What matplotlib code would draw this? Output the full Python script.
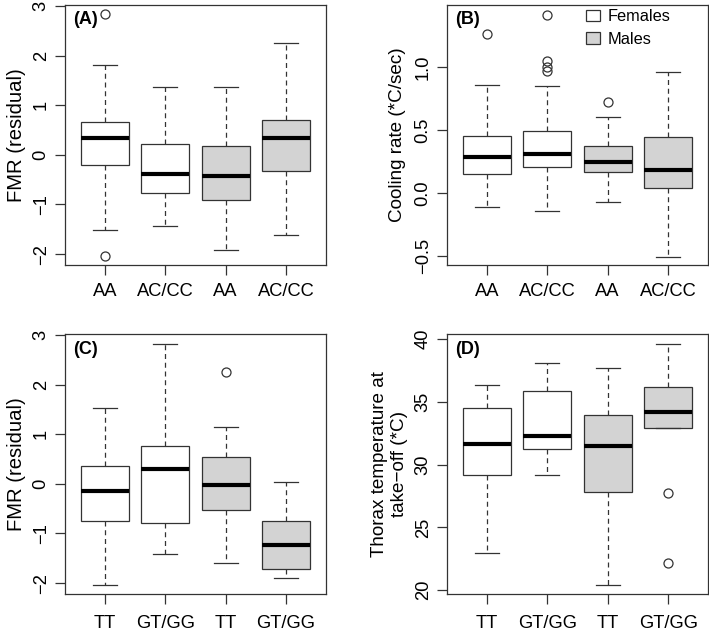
import matplotlib
matplotlib.use("Agg")
import matplotlib.pyplot as plt
from matplotlib.patches import Patch

plt.rcParams['font.family'] = ['Liberation Sans', 'DejaVu Sans']

# genotype labels and sex of each box
labels_ac = ["AA", "AC/CC", "AA", "AC/CC"]
labels_gt = ["TT", "GT/GG", "TT", "GT/GG"]
sexes = ["F", "F", "M", "M"]

# five-number summaries: (lower whisker, Q1, median, Q3, upper whisker)
fmr_ac = [(-1.51, -0.20, 0.336, 0.66, 1.82),
          (-1.43, -0.766, -0.376, 0.215, 1.36),
          (-1.91, -0.90, -0.42, 0.18, 1.36),
          (-1.61, -0.33, 0.336, 0.70, 2.245)]
fmr_ac_out = [[2.83, -2.04], [], [], []]

cool_ac = [(-0.114, 0.151, 0.289, 0.456, 0.86),
           (-0.143, 0.207, 0.308, 0.49, 0.846),
           (-0.072, 0.167, 0.249, 0.369, 0.605),
           (-0.504, 0.042, 0.186, 0.443, 0.958)]
cool_ac_out = [[1.263], [1.414, 1.05, 1.0, 0.97], [0.724], []]

fmr_gt = [(-2.03, -0.745, -0.148, 0.369, 1.53),
          (-1.416, -0.79, 0.295, 0.772, 2.82),
          (-1.597, -0.53, -0.02, 0.55, 1.154),
          (-1.90, -1.725, -1.228, -0.745, 0.034)]
fmr_gt_out = [[], [], [2.248], []]

temp_gt = [(22.95, 29.2, 31.62, 34.47, 36.36),
           (29.15, 31.22, 32.31, 35.85, 38.09),
           (20.4, 27.79, 31.49, 33.96, 37.66),
           (32.93, 32.93, 34.18, 36.22, 39.63)]
temp_gt_out = [[], [], [], [27.74, 22.13]]

fill = {"F": "white", "M": "#d3d3d3"}
edge = "#333333"


def draw(ax, summ, outl, labels, yticks, ylim, ylabel, tag, labsize, labpad, xpad):
    stats = []
    for (lo, q1, med, q3, hi), fl, lab in zip(summ, outl, labels):
        stats.append(dict(whislo=lo, q1=q1, med=med, q3=q3, whishi=hi,
                          fliers=fl, label=lab))
    bp = ax.bxp(stats, positions=[1, 2, 3, 4], widths=0.8, patch_artist=True,
                boxprops=dict(edgecolor=edge, linewidth=0.9),
                medianprops=dict(color="black", linewidth=3.0, solid_capstyle="butt"),
                whiskerprops=dict(color=edge, linewidth=0.9, linestyle=(0, (4, 3))),
                capprops=dict(color=edge, linewidth=0.9),
                flierprops=dict(marker="o", markerfacecolor="none",
                                markeredgecolor=edge, markersize=6.5, markeredgewidth=0.9),
                capwidths=0.4)
    for patch, s in zip(bp["boxes"], sexes):
        patch.set_facecolor(fill[s])
    ax.set_xlim(0.34, 4.66)
    ax.set_ylim(*ylim)
    ax.set_yticks(yticks)
    ax.set_yticklabels([("%g" % t).replace("-", "\u2212") for t in yticks],
                       rotation=90, va="center")
    ax.tick_params(axis="both", length=7, width=0.9, color=edge, labelsize=13.2)
    ax.tick_params(axis="x", pad=xpad)
    ax.tick_params(axis="y", pad=4)
    for sp in ax.spines.values():
        sp.set_color(edge)
        sp.set_linewidth(0.9)
    ax.set_ylabel(ylabel, fontsize=labsize, labelpad=labpad)
    ax.text(0.03, 0.975, tag, transform=ax.transAxes, fontsize=13,
            fontweight="bold", va="top", ha="left")


fig = plt.figure(figsize=(7.09, 6.31), dpi=100)
w, h = 261 / 709, 260 / 631
axA = fig.add_axes([65 / 709, 1 - 265 / 631, w, h])
axB = fig.add_axes([447 / 709, 1 - 265 / 631, w, h])
axC = fig.add_axes([65 / 709, 1 - 594 / 631, w, h])
axD = fig.add_axes([447 / 709, 1 - 594 / 631, w, h])

draw(axA, fmr_ac, fmr_ac_out, labels_ac, [-2, -1, 0, 1, 2, 3], (-2.22, 3.02),
     "FMR (residual)", "(A)", 14.6, 5, 6)
draw(axB, cool_ac, cool_ac_out, labels_ac, [-0.5, 0.0, 0.5, 1.0], (-0.57, 1.49),
     "Cooling rate (*C/sec)", "(B)", 13.6, 6, 6)
axB.set_yticklabels(["\u22120.5", "0.0", "0.5", "1.0"])
draw(axC, fmr_gt, fmr_gt_out, labels_gt, [-2, -1, 0, 1, 2, 3], (-2.22, 3.02),
     "FMR (residual)", "(C)", 14.6, 5, 8)
draw(axD, temp_gt, temp_gt_out, labels_gt, [20, 25, 30, 35, 40], (19.7, 40.4),
     "Thorax temperature at\ntake\u2212off (*C)", "(D)", 13.6, 5, 8)

handles = [Patch(facecolor="white", edgecolor=edge, linewidth=0.9),
           Patch(facecolor="#d3d3d3", edgecolor=edge, linewidth=0.9)]
axB.legend(handles, ["Females", "Males"], loc="upper left", frameon=False,
           fontsize=11.8, handlelength=0.85, handleheight=0.7, handletextpad=0.45,
           labelspacing=0.45, borderaxespad=0.0, borderpad=0.0,
           bbox_to_anchor=(0.533, 0.983))

fig.savefig("out.png", dpi=100)
